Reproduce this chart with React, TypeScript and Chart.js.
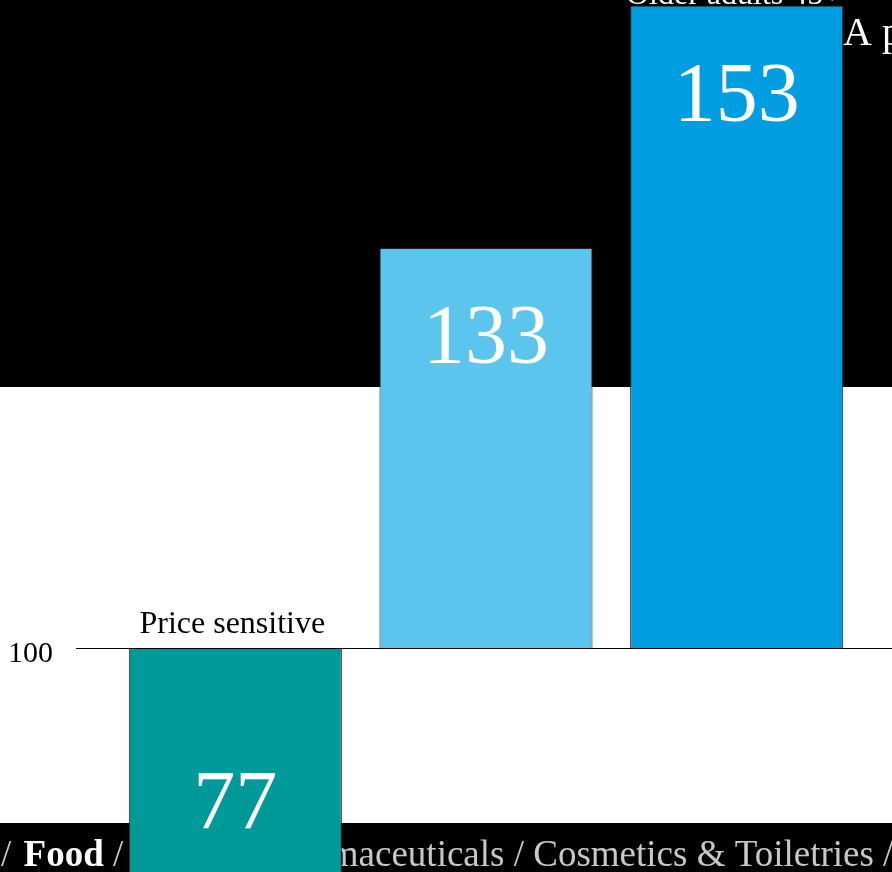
import React, { useEffect, useRef } from "react";
import { Chart, registerables } from "chart.js";

Chart.register(...registerables);

// ---- data ----
const categories = ["Price sensitive", "", "Older adults 45+"];
const indexValues = [77, 133, 153];
const barColors = ["#009999", "#5BC5EE", "#009EE0"];
const baseIndex = 100;
const yTickValues = [100];
const stripParts = ["/ ", "Food", " / Drinks / Pharmaceuticals / Cosmetics & Toiletries /"];
const titleText = "A profile of the shopper";

const SERIF = '"Liberation Serif", "Times New Roman", serif';

const backdrop = {
  id: "backdrop",
  beforeDraw(chart: any) {
    const { ctx, width, height } = chart;
    ctx.save();
    ctx.fillStyle = "#ffffff";
    ctx.fillRect(0, 0, width, height);
    ctx.fillStyle = "#000000";
    ctx.fillRect(0, 0, width, 387);
    ctx.fillRect(0, 823, width, height - 823);
    // title
    ctx.fillStyle = "#ffffff";
    ctx.font = `40px ${SERIF}`;
    ctx.textBaseline = "alphabetic";
    ctx.textAlign = "left";
    ctx.fillText(titleText, 843, 45);
    // bottom strip
    let x = 1;
    const y = 866;
    stripParts.forEach((p, i) => {
      const bold = i === 1;
      ctx.font = `${bold ? "bold " : ""}37px ${SERIF}`;
      ctx.fillStyle = bold ? "#ffffff" : "#c8c8c8";
      ctx.fillText(p, x, y);
      x += ctx.measureText(p).width + (i === 0 ? 3 : 0);
    });
    ctx.restore();
  },
};

const overlay = {
  id: "overlay",
  afterDatasetsDraw(chart: any) {
    const { ctx, chartArea } = chart;
    const yScale = chart.scales.y;
    const yBase = yScale.getPixelForValue(baseIndex);
    ctx.save();
    // base line at 100
    ctx.strokeStyle = "#000000";
    ctx.lineWidth = 1;
    ctx.beginPath();
    ctx.moveTo(chartArea.left - 34, Math.round(yBase) + 0.5);
    ctx.lineTo(chart.width, Math.round(yBase) + 0.5);
    ctx.stroke();

    const meta = chart.getDatasetMeta(0);
    meta.data.forEach((bar: any, i: number) => {
      const v = indexValues[i];
      const yv = yScale.getPixelForValue(v);
      const top = Math.min(yv, yBase);
      // value label
      ctx.fillStyle = "#ffffff";
      ctx.font = `84px ${SERIF}`;
      ctx.textAlign = "center";
      ctx.textBaseline = "alphabetic";
      const vy = v >= baseIndex ? yv + 115 : yv - 98;
      ctx.fillText(String(v), bar.x, vy);
      // category label
      const label = categories[i];
      if (label) {
        const ly = Math.max(top - 15, 4);
        ctx.font = `32px ${SERIF}`;
        ctx.fillStyle = ly < 387 ? "#ffffff" : "#000000";
        ctx.fillText(label, bar.x - 3, ly);
      }
    });
    ctx.restore();
  },
};

export default function App() {
  const canvasRef = useRef<HTMLCanvasElement | null>(null);

  useEffect(() => {
    document.body.style.margin = "0";
    const canvas = canvasRef.current;
    if (!canvas) return;
    const chart = new Chart(canvas, {
      type: "bar",
      data: {
        labels: categories,
        datasets: [
          {
            data: indexValues,
            base: baseIndex,
            backgroundColor: barColors,
            borderColor: "#222222",
            borderWidth: 1,
            barPercentage: 0.85,
            categoryPercentage: 1,
          } as any,
        ],
      },
      options: {
        responsive: false,
        animation: false,
        devicePixelRatio: 1,
        layout: { padding: { left: 8, right: 30, top: 0, bottom: 0 } },
        plugins: { legend: { display: false }, tooltip: { enabled: false } },
        scales: {
          x: { display: false },
          y: {
            min: 81.52,
            max: 153.46,
            grid: { display: false, drawTicks: false },
            border: { display: false },
            afterBuildTicks: (scale: any) => {
              scale.ticks = yTickValues.map((value) => ({ value }));
            },
            afterFit: (scale: any) => {
              scale.width = 102;
              scale.paddingTop = 0;
              scale.paddingBottom = 0;
            },
            ticks: {
              color: "#000000",
              padding: 0,
              crossAlign: "far",
              labelOffset: 6,
              font: { family: SERIF, size: 30 },
              callback: (v: any) => String(v),
            },
          },
        },
      },
      plugins: [backdrop, overlay],
    });
    return () => chart.destroy();
  }, []);

  return (
    <div style={{ position: "relative", width: 892, height: 872, overflow: "hidden" }}>
      <canvas ref={canvasRef} width={892} height={872} style={{ display: "block" }} />
    </div>
  );
}
